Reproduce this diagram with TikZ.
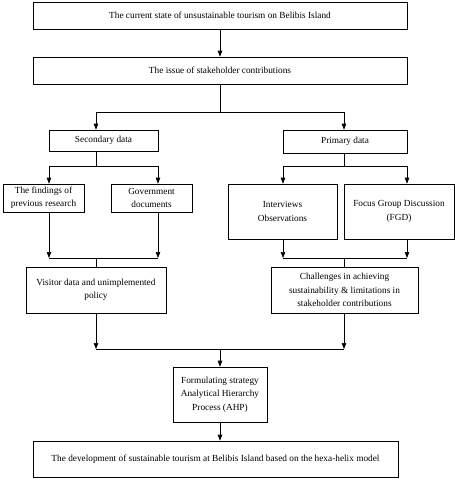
\documentclass[tikz,border=0pt]{standalone}
\usepackage{fontspec}
\setmainfont{Liberation Serif}
\usetikzlibrary{arrows.meta}
\begin{document}
\begin{tikzpicture}[x=1pt,y=-1pt,
  box/.style={draw, line width=0.6pt, inner sep=1pt, align=center, font=\fontsize{9.3}{13.3}\selectfont},
  conn/.style={draw, line width=0.6pt},
  arr/.style={draw, line width=0.6pt, -{Triangle[length=6pt,width=4.5pt]}}]
\useasboundingbox (0,0) rectangle (455,480);
\node[box, minimum width=374pt, minimum height=27pt] (top) at (220,15.5) {The current state of unsustainable tourism on Belibis Island};
\node[box, minimum width=374pt, minimum height=27pt] (issue) at (220,70.5) {The issue of stakeholder contributions};
\node[box, minimum width=109pt, minimum height=21pt] (sec) at (103.5,140.5) {Secondary data};
\node[box, minimum width=124pt, minimum height=23pt] (prim) at (345,141.5) {Primary data};
\node[box, minimum width=81pt, minimum height=28pt] (find) at (43.5,198) {The findings of\\previous research};
\node[box, minimum width=81pt, minimum height=28pt] (gov) at (151.5,198) {Government\\documents};
\node[box, minimum width=109pt, minimum height=55pt] (int) at (282.5,211.5) {Interviews\\Observations};
\node[box, minimum width=110pt, minimum height=55pt] (fgd) at (399,211.5) {Focus Group Discussion\\(FGD)};
\node[box, minimum width=140pt, minimum height=46pt] (vis) at (96,290) {Visitor data and unimplemented\\policy};
\node[box, minimum width=147pt, minimum height=46pt] (chal) at (344.5,290) {Challenges in achieving\\sustainability \& limitations in\\stakeholder contributions};
\node[box, minimum width=94pt, minimum height=55pt] (form) at (220,394.5) {Formulating strategy\\Analytical Hierarchy\\Process (AHP)};
\node[box, minimum width=365pt, minimum height=36pt] (dev) at (215.5,459) {The development of sustainable tourism at Belibis Island based on the hexa-helix model};
% junction coordinates
\coordinate (j1) at (220,112);
\coordinate (j1l) at (96,112);
\coordinate (j1r) at (344,112);
\coordinate (s0) at (96,166);
\coordinate (sl) at (49,166);
\coordinate (sr) at (158,166);
\coordinate (p0) at (344,166);
\coordinate (pl) at (283,166);
\coordinate (pr) at (407,166);
\coordinate (vl) at (49,258);
\coordinate (vr) at (158,258);
\coordinate (v0) at (96,258);
\coordinate (cl) at (283,258);
\coordinate (cr) at (407,258);
\coordinate (c0) at (344,258);
\coordinate (bl) at (96,349);
\coordinate (br) at (344,349);
\coordinate (b0) at (220,349);
% connectors
\draw[arr] (top) -- (issue);
\draw[conn] (issue) -- (j1);
\draw[conn] (j1l) -- (j1r);
\draw[arr] (j1l) -- (j1l |- sec.north);
\draw[arr] (j1r) -- (j1r |- prim.north);
\draw[conn] (s0 |- sec.south) -- (s0);
\draw[conn] (sl) -- (sr);
\draw[arr] (sl) -- (sl |- find.north);
\draw[arr] (sr) -- (sr |- gov.north);
\draw[conn] (p0 |- prim.south) -- (p0);
\draw[conn] (pl) -- (pr);
\draw[arr] (pl) -- (pl |- int.north);
\draw[arr] (pr) -- (pr |- fgd.north);
\draw[arr] (vl |- find.south) -- (vl);
\draw[arr] (vr |- gov.south) -- (vr);
\draw[conn] (vl) -- (vr);
\draw[conn] (v0) -- (v0 |- vis.north);
\draw[arr] (cl |- int.south) -- (cl);
\draw[arr] (cr |- fgd.south) -- (cr);
\draw[conn] (cl) -- (cr);
\draw[conn] (c0) -- (c0 |- chal.north);
\draw[arr] (bl |- vis.south) -- (bl);
\draw[arr] (br |- chal.south) -- (br);
\draw[conn] (bl) -- (br);
\draw[arr] (b0) -- (form);
\draw[arr] (form.south -| b0) -- (b0 |- dev.north);
\end{tikzpicture}
\end{document}
